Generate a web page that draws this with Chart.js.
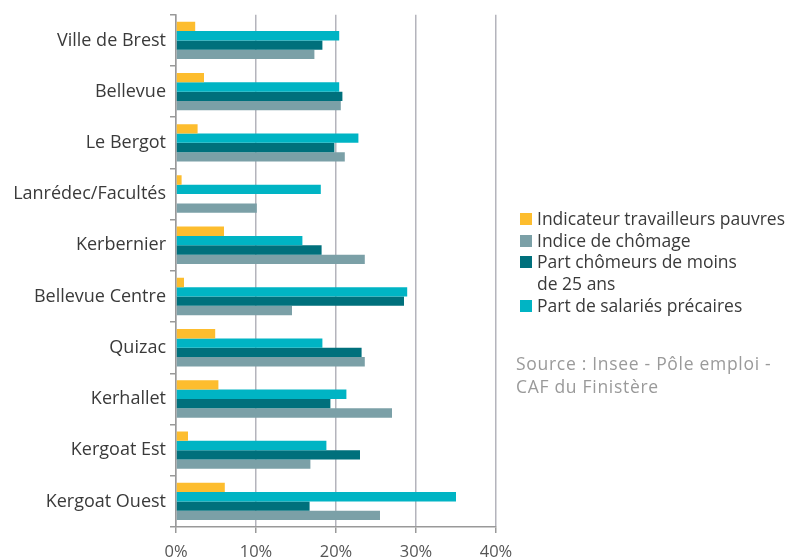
<!DOCTYPE html>
<html lang="fr">
<head>
<meta charset="utf-8">
<script src="https://cdn.jsdelivr.net/npm/chart.js@4/dist/chart.umd.min.js"></script>
<style>
  html, body { margin: 0; padding: 0; background: #fff; }
  #wrap { position: relative; width: 788px; height: 560px; font-family: "Open Sans", "Noto Sans", sans-serif; }
  #chart { position: absolute; left: 0; top: 0; }
  #legend { position: absolute; left: 520px; top: 208px; font-size: 17.5px; color: #3a3a3a; line-height: 21.7px; }
  #legend .row { display: flex; align-items: flex-start; }
  #legend .sw { width: 12px; height: 12px; margin-top: 5px; margin-right: 5px; flex: none; }
  #source { position: absolute; left: 516px; top: 352px; font-size: 17.5px; letter-spacing: 0.7px; color: #9a9a9a; line-height: 23px; }
</style>
</head>
<body>
<div id="wrap">
  <canvas id="chart" width="788" height="560"></canvas>
  <div id="legend"></div>
  <div id="source">Source : Insee - Pôle emploi -<br>CAF du Finistère</div>
</div>
<script>
// Quartiers de Brest
const categories = ["Ville de Brest", "Bellevue", "Le Bergot", "Lanrédec/Facultés", "Kerbernier",
  "Bellevue Centre", "Quizac", "Kerhallet", "Kergoat Est", "Kergoat Ouest"];

// Valeurs en %
const travailleursPauvres = [2.4, 3.5, 2.7, 0.7, 6.0, 1.0, 4.9, 5.3, 1.5, 6.1];
const salariesPrecaires   = [20.4, 20.4, 22.8, 18.1, 15.8, 28.9, 18.3, 21.3, 18.8, 35.0];
const chomeursMoins25     = [18.3, 20.8, 19.8, null, 18.2, 28.5, 23.2, 19.3, 23.0, 16.7];
const indiceChomage       = [17.3, 20.6, 21.1, 10.1, 23.6, 14.5, 23.6, 27.0, 16.8, 25.5];

const xTicks = [0, 10, 20, 30, 40];

const series = [
  { label: "Indicateur travailleurs pauvres", data: travailleursPauvres, color: "#fdbd2e", legendRank: 0 },
  { label: "Part de salariés précaires", data: salariesPrecaires, color: "#00b4c4", legendRank: 3 },
  { label: "Part chômeurs de moins de 25 ans", data: chomeursMoins25, color: "#00707c", legendRank: 2 },
  { label: "Indice de chômage", data: indiceChomage, color: "#7ba0a7", legendRank: 1 }
];

const legendLines = {
  "Part chômeurs de moins de 25 ans": "Part chômeurs de moins<br>de 25 ans"
};

// HTML legend, in reading order
const legendEl = document.getElementById("legend");
series.slice().sort((a, b) => a.legendRank - b.legendRank).forEach(s => {
  const row = document.createElement("div");
  row.className = "row";
  row.innerHTML = '<span class="sw" style="background:' + s.color + '"></span><span>' +
    (legendLines[s.label] || s.label) + '</span>';
  legendEl.appendChild(row);
});

const fontFamily = '"Open Sans", "Noto Sans", sans-serif';

new Chart(document.getElementById("chart"), {
  type: "bar",
  data: {
    labels: categories,
    datasets: series.map(s => ({
      label: s.label,
      data: s.data,
      backgroundColor: s.color,
      borderWidth: 0,
      categoryPercentage: 0.73,
      barPercentage: 1.0
    }))
  },
  options: {
    indexAxis: "y",
    responsive: false,
    animation: false,
    layout: { padding: { left: 0, right: 292, top: 12, bottom: 0 } },
    plugins: {
      legend: { display: false },
      tooltip: { enabled: false }
    },
    scales: {
      x: {
        min: 0,
        max: 40,
        afterBuildTicks: (scale) => { scale.ticks = xTicks.map(v => ({ value: v })); },
        afterFit: (scale) => { scale.height = 33; },
        ticks: {
          callback: (v) => v + "%",
          color: "#555",
          padding: 9,
          maxRotation: 0,
          font: { family: fontFamily, size: 16.5 }
        },
        grid: { color: "#b4b4bc", lineWidth: 1.5, drawTicks: true, tickLength: 6, tickColor: "#999" },
        border: { display: true, color: "#999", width: 1.5 }
      },
      y: {
        afterFit: (scale) => { scale.width = 176; },
        ticks: {
          color: "#3a3a3a",
          padding: 4,
          font: { family: fontFamily, size: 18 }
        },
        grid: { drawOnChartArea: false, drawTicks: true, tickLength: 6, color: "#999", lineWidth: 1.5, offset: true },
        border: { display: true, color: "#999", width: 1.5 }
      }
    }
  }
});
</script>
</body>
</html>
